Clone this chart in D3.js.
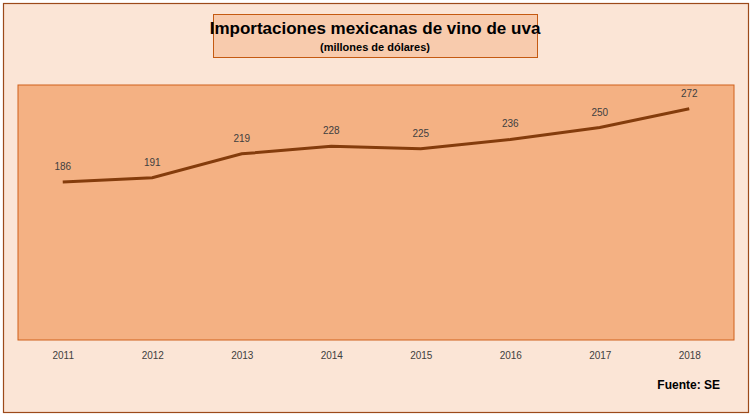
<!DOCTYPE html>
<html><head><meta charset="utf-8">
<script src="https://cdn.jsdelivr.net/npm/d3@7"></script>
<style>body{margin:0;background:#fff}svg{display:block}</style>
</head><body>
<script>
const years = ["2011","2012","2013","2014","2015","2016","2017","2018"];
const values = [186,191,219,228,225,236,250,272];
const title = "Importaciones mexicanas de vino de uva";
const subtitle = "(millones de dólares)";
const source = "Fuente: SE";

const W=752,H=417;
const svg=d3.select("body").append("svg").attr("width",W).attr("height",H);
svg.append("rect").attr("x",3.5).attr("y",3.5).attr("width",745).attr("height",409)
  .attr("fill","#FBE5D6").attr("stroke","#9C4A1A").attr("stroke-width",1.2);
const pl=18,pr=734,pt=85,pb=340;
svg.append("rect").attr("x",pl).attr("y",pt).attr("width",pr-pl).attr("height",pb-pt)
  .attr("fill","#F4B183").attr("stroke","#D0601A").attr("stroke-width",1);
svg.append("rect").attr("x",213.5).attr("y",14.5).attr("width",324).attr("height",43)
  .attr("fill","#F8CBAD").attr("stroke","#C55A11").attr("stroke-width",1);
svg.append("text").attr("x",375).attr("y",34).attr("text-anchor","middle")
  .attr("font-family","Liberation Sans, Arial").attr("font-weight","bold").attr("font-size",17).text(title);
svg.append("text").attr("x",375).attr("y",51).attr("text-anchor","middle")
  .attr("font-family","Liberation Sans, Arial").attr("font-weight","bold").attr("font-size",11).text(subtitle);

const x=d3.scalePoint().domain(years).range([pl,pr]).padding(0.5);
const y=d3.scaleLinear().domain([0,300]).range([pb,pt]);
const ax=svg.append("g").attr("transform",`translate(0,${pb})`)
  .call(d3.axisBottom(x).tickSize(0).tickPadding(12));
ax.select(".domain").remove();
ax.selectAll("text").attr("font-family","Liberation Sans, Arial").attr("font-size",10).attr("fill","#404040");

svg.append("path").datum(values).attr("fill","none").attr("stroke","#843C0C").attr("stroke-width",3)
  .attr("d",d3.line().x((d,i)=>x(years[i])).y(d=>y(d)));
svg.selectAll(".lbl").data(values).enter().append("text")
  .attr("x",(d,i)=>x(years[i])).attr("y",d=>y(d)-12).attr("text-anchor","middle")
  .attr("font-family","Liberation Sans, Arial").attr("font-size",10).attr("fill","#404040").text(d=>d);
svg.append("text").attr("x",720).attr("y",389).attr("text-anchor","end")
  .attr("font-family","Liberation Sans, Arial").attr("font-weight","bold").attr("font-size",12).text(source);
</script></body></html>
